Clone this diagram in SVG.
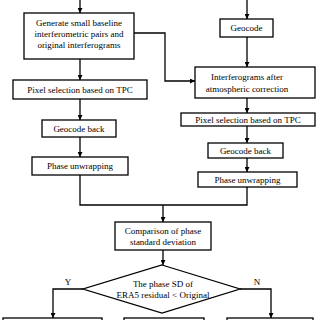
<svg xmlns="http://www.w3.org/2000/svg" width="320" height="320" viewBox="0 0 320 320">
<style>
.b{fill:#fff;stroke:#000;stroke-width:1.3}
.t{font-family:"Liberation Serif","Times New Roman",serif;font-size:9px;text-anchor:middle;fill:#000}
.c{fill:none;stroke:#000;stroke-width:1.3}
</style>
<defs>
<marker id="a" viewBox="0 0 10 10" refX="10" refY="5" markerWidth="5" markerHeight="5" orient="auto" markerUnits="userSpaceOnUse">
<path d="M0,0L10,5L0,10z" fill="#000"/>
</marker>
</defs>
<rect width="320" height="320" fill="#fff"/>
<g id="connectors" class="c" marker-end="url(#a)">
<path d="M80,0V13"/>
<path d="M80,59V80"/>
<path d="M80,99V120"/>
<path d="M80,137V157"/>
<path d="M80,175V205H247V187" marker-end="none"/>
<path d="M163,205V222"/>
<path d="M134,33H165V81H195"/>
<path d="M247,0V19"/>
<path d="M247,37V67"/>
<path d="M247,98V113"/>
<path d="M247,126V143"/>
<path d="M247,158V172"/>
<path d="M163,250V265"/>
<path d="M83,289H53V318"/>
<path d="M240,289H271V318"/>
</g>
<g id="n1"><rect class="b" x="24" y="13" width="110" height="46"/>
<text class="t" x="79" y="25.5">Generate small baseline</text>
<text class="t" x="79" y="36.5">interferometric pairs and</text>
<text class="t" x="79" y="47.5">original interferograms</text></g>
<g id="n2"><rect class="b" x="13" y="80" width="134" height="19"/>
<text class="t" x="80" y="93">Pixel selection based on TPC</text></g>
<g id="n3"><rect class="b" x="42" y="120" width="74" height="17"/>
<text class="t" x="79" y="131.5">Geocode back</text></g>
<g id="n4"><rect class="b" x="32" y="157" width="96" height="18"/>
<text class="t" x="80" y="169">Phase unwrapping</text></g>
<g id="n5"><rect class="b" x="220" y="19" width="53" height="18"/>
<text class="t" x="246.5" y="31">Geocode</text></g>
<g id="n6"><rect class="b" x="195" y="67" width="120" height="31"/>
<text class="t" x="247" y="80">Interferograms after</text>
<text class="t" x="247" y="91.5">atmospheric correction</text></g>
<g id="n7"><rect class="b" x="181" y="113" width="134" height="13"/>
<text class="t" x="248" y="122.5">Pixel selection based on TPC</text></g>
<g id="n8"><rect class="b" x="208" y="143" width="75" height="15"/>
<text class="t" x="245.5" y="153.5">Geocode back</text></g>
<g id="n9"><rect class="b" x="198" y="172" width="99" height="15"/>
<text class="t" x="247.5" y="182.5">Phase unwrapping</text></g>
<g id="n10"><rect class="b" x="115" y="222" width="96" height="28"/>
<text class="t" x="163" y="233.5">Comparison of phase</text>
<text class="t" x="163" y="244.5">standard deviation</text></g>
<g id="n11"><path class="b" d="M162,265L240,289L162,313L83,289Z"/>
<text class="t" x="163" y="287">The phase SD of</text>
<text class="t" x="163" y="297.5">ERA5 residual &lt; Original</text></g>
<g id="lY"><text class="t" x="68" y="285">Y</text></g>
<g id="lN"><text class="t" x="257" y="285">N</text></g>
<g id="n12"><rect class="b" x="3" y="318" width="99" height="10"/></g>
<g id="n13"><rect class="b" x="124" y="318" width="80" height="10"/></g>
<g id="n14"><rect class="b" x="227" y="318" width="86" height="10"/></g>
</svg>
